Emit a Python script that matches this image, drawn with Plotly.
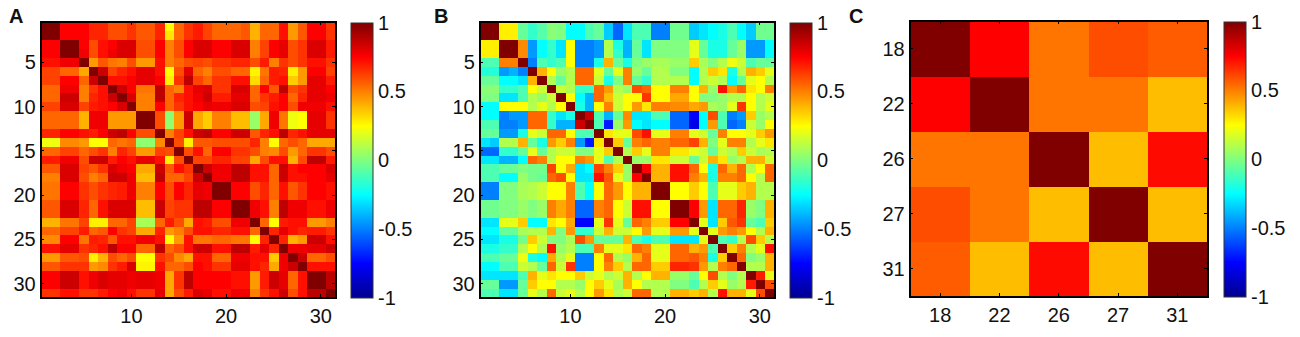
import plotly.graph_objects as go

# Rows of each correlation matrix
matrix_a = [
 [1,1,.75,.75,.75,.68,.68,.6,.6,.65,.58,.58,.68,.25,.55,.65,.7,.62,.55,.55,.55,.58,.4,.55,.55,.72,.45,.58,.75,.75,.65],
 [1,1,.75,.75,.75,.68,.68,.6,.6,.65,.58,.58,.68,.3,.55,.65,.7,.62,.55,.55,.55,.58,.4,.55,.55,.72,.45,.58,.75,.75,.65],
 [.75,.75,1,1,.75,.6,.72,.75,.82,.82,.6,.6,.75,.5,.6,.75,.82,.82,.75,.75,.82,.82,.5,.62,.75,.8,.6,.65,.82,.82,.7],
 [.75,.75,1,1,.78,.6,.72,.78,.82,.82,.6,.6,.75,.5,.6,.75,.82,.82,.75,.75,.82,.82,.5,.62,.75,.8,.6,.65,.82,.82,.7],
 [.72,.72,.78,.78,1,.45,.58,.52,.5,.6,.45,.45,.72,.5,.55,.6,.62,.6,.65,.65,.68,.68,.6,.7,.5,.65,.6,.65,.72,.72,.65],
 [.62,.62,.55,.55,.42,1,.85,.62,.68,.72,.8,.8,.72,.25,.6,.8,.55,.5,.6,.6,.55,.55,.27,.52,.7,.68,.28,.45,.75,.75,.62],
 [.62,.62,.75,.75,.55,.85,1,.72,.72,.75,.8,.8,.75,.28,.65,.88,.62,.55,.65,.65,.72,.72,.32,.55,.7,.72,.35,.45,.8,.8,.7],
 [.55,.55,.78,.78,.5,.65,.72,1,.85,.75,.52,.52,.88,.55,.5,.72,.8,.82,.65,.65,.82,.82,.55,.75,.58,.88,.6,.65,.8,.8,.75],
 [.55,.55,.85,.85,.5,.68,.72,.85,1,.82,.5,.5,.88,.55,.68,.72,.78,.85,.7,.7,.8,.8,.55,.65,.7,.75,.55,.68,.8,.8,.78],
 [.62,.62,.82,.82,.62,.7,.72,.75,.82,1,.5,.5,.75,.55,.65,.72,.75,.8,.78,.78,.82,.82,.6,.62,.72,.75,.6,.78,.78,.78,.72],
 [.55,.55,.55,.55,.4,.78,.78,.45,.45,.45,1,1,.6,.02,.45,.85,.42,.35,.5,.5,.38,.38,.05,.42,.78,.52,.22,.25,.8,.8,.65],
 [.55,.55,.55,.55,.4,.78,.78,.45,.45,.45,1,1,.6,.04,.45,.85,.42,.35,.5,.5,.38,.38,.05,.42,.78,.52,.22,.25,.8,.8,.65],
 [.68,.68,.75,.75,.72,.7,.75,.85,.88,.75,.6,.6,1,.5,.62,.72,.85,.88,.75,.75,.85,.85,.58,.68,.72,.88,.68,.72,.8,.8,.8],
 [.22,.22,.48,.48,.45,.25,.25,.55,.52,.55,.03,.03,.48,1,.6,.28,.58,.58,.6,.6,.6,.6,.68,.5,.25,.55,.6,.55,.42,.42,.42],
 [.55,.55,.62,.62,.55,.6,.65,.5,.68,.62,.45,.45,.62,.6,1,.6,.72,.55,.75,.75,.65,.65,.6,.5,.48,.6,.45,.55,.65,.65,.6],
 [.7,.7,.78,.78,.6,.85,.85,.7,.75,.72,.8,.8,.72,.28,.6,1,.62,.62,.68,.68,.62,.62,.42,.6,.72,.72,.4,.6,.88,.88,.7],
 [.58,.58,.82,.82,.62,.58,.65,.82,.78,.75,.42,.42,.85,.58,.72,.65,1,.85,.78,.78,.88,.88,.72,.72,.55,.85,.72,.75,.75,.75,.82],
 [.5,.5,.82,.82,.6,.5,.55,.85,.85,.78,.38,.38,.88,.55,.55,.62,.85,1,.78,.78,.88,.88,.72,.72,.55,.85,.72,.72,.75,.75,.8],
 [.52,.52,.75,.75,.65,.6,.65,.68,.7,.78,.5,.5,.75,.6,.75,.68,.8,.78,1,1,.75,.75,.6,.68,.55,.72,.58,.65,.75,.75,.72],
 [.52,.52,.75,.75,.65,.6,.65,.68,.7,.78,.5,.5,.75,.6,.75,.68,.8,.78,1,1,.75,.75,.6,.68,.55,.72,.58,.65,.75,.75,.72],
 [.58,.58,.82,.82,.68,.55,.72,.82,.82,.82,.38,.38,.85,.62,.65,.65,.88,.88,.75,.75,1,1,.78,.72,.5,.88,.78,.78,.72,.72,.78],
 [.58,.58,.82,.82,.68,.55,.72,.82,.82,.82,.38,.38,.85,.62,.65,.65,.88,.88,.75,.75,1,1,.78,.72,.5,.88,.78,.78,.72,.72,.78],
 [.4,.4,.52,.52,.62,.28,.28,.55,.55,.62,.08,.08,.55,.7,.6,.42,.72,.7,.6,.6,.78,.78,1,.55,.25,.7,.72,.72,.45,.45,.5],
 [.55,.55,.62,.62,.7,.55,.58,.75,.65,.62,.42,.42,.68,.45,.5,.6,.72,.72,.68,.68,.72,.72,.55,1,.68,.8,.72,.68,.7,.7,.65],
 [.48,.48,.75,.75,.52,.7,.68,.58,.72,.72,.78,.78,.72,.25,.45,.72,.52,.52,.55,.55,.52,.52,.25,.68,1,.68,.4,.45,.85,.85,.72],
 [.72,.72,.8,.8,.65,.68,.72,.88,.75,.75,.55,.55,.88,.55,.6,.72,.85,.85,.72,.72,.88,.88,.7,.8,.68,1,.78,.78,.8,.8,.85],
 [.45,.45,.58,.58,.6,.28,.4,.6,.55,.6,.25,.25,.65,.6,.48,.42,.72,.72,.55,.55,.78,.78,.72,.72,.35,.78,1,.85,.55,.55,.6],
 [.58,.58,.65,.65,.65,.45,.48,.65,.7,.82,.27,.27,.72,.55,.55,.6,.75,.72,.65,.65,.8,.8,.72,.68,.42,.78,.85,1,.72,.72,.72],
 [.75,.75,.85,.85,.72,.78,.82,.8,.8,.78,.8,.8,.78,.42,.65,.88,.75,.75,.75,.75,.72,.72,.45,.7,.85,.8,.55,.72,1,1,.88],
 [.75,.75,.85,.85,.72,.78,.82,.8,.8,.78,.8,.8,.78,.42,.65,.88,.75,.75,.75,.75,.72,.72,.45,.7,.85,.8,.55,.72,1,1,.88],
 [.65,.65,.72,.72,.65,.65,.7,.75,.78,.72,.65,.65,.8,.42,.6,.7,.82,.8,.72,.72,.78,.78,.5,.65,.72,.85,.6,.72,.88,.88,1],
]

matrix_b = [
 [1,1,.28,.28,-.05,-.15,-.08,.02,0,-.25,-.25,-.1,-.05,-.35,-.55,-.3,-.1,-.1,-.5,-.5,-.03,-.03,-.35,-.3,-.25,-.2,-.1,-.25,-.35,-.03,-.03],
 [1,1,.28,.28,-.05,-.15,-.08,.02,0,-.25,-.25,-.1,-.05,-.35,-.55,-.3,-.1,-.1,-.5,-.5,-.03,-.03,-.35,-.3,-.25,-.2,-.1,-.25,-.35,-.03,-.03],
 [.28,.28,1,1,.48,-.45,-.25,-.15,-.3,.25,-.5,-.5,-.45,.1,-.2,-.4,-.05,-.3,0,0,0,0,.2,-.05,-.2,-.2,-.05,.05,-.45,-.45,-.25],
 [.28,.28,1,1,.48,-.45,-.25,-.15,-.3,.25,-.5,-.5,-.45,.1,-.15,-.4,-.05,-.3,0,0,0,0,.2,-.05,-.2,-.2,-.05,.05,-.45,-.45,-.25],
 [-.1,-.1,.5,.5,1,-.5,-.1,-.15,-.1,.25,-.5,-.5,-.2,.4,-.05,-.2,0,.05,.08,.08,.05,.05,.35,.08,0,.1,.22,.15,-.1,-.05,-.05],
 [-.18,-.18,-.45,-.4,-.5,1,.4,.25,.05,.1,.55,.55,.2,-.05,.2,.5,.05,-.05,.1,.1,0,0,-.25,.1,.35,.3,-.2,.1,.4,.35,.2],
 [-.05,-.05,-.25,-.25,-.3,.4,1,.1,-.05,.1,.55,.55,.15,-.2,0,.5,-.05,-.15,.1,.1,.1,.1,-.25,.1,.15,.1,-.25,-.05,.2,.25,.1],
 [.02,.02,-.15,-.15,-.1,.25,.15,1,.15,.1,-.15,-.15,.55,.45,.1,.05,.6,.55,.25,.25,.5,.5,.25,.4,.05,.72,.45,.55,.3,.25,.5],
 [0,0,-.3,-.3,-.1,.1,.05,.15,1,.25,-.25,-.4,.55,.38,.15,.25,.25,.65,.25,.25,.42,.42,.25,0,0,.05,.1,.1,.25,.1,.15],
 [-.25,-.25,.25,.25,.25,.1,.2,.1,.25,1,-.2,-.4,.25,.5,.15,.25,.45,.3,.5,.5,.48,.48,.42,.45,.08,.05,.2,.65,.25,.1,.2],
 [-.25,-.25,-.5,-.45,-.45,.55,.55,-.15,-.3,-.2,1,.85,-.1,-.4,-.05,.48,-.3,-.3,-.1,-.1,-.55,-.55,-.75,-.25,.6,-.1,-.5,-.45,.35,.05,.1],
 [-.1,-.1,-.5,-.5,-.45,.55,.55,-.15,-.4,-.4,.85,1,-.1,-.7,.05,.45,-.25,-.3,-.25,-.25,-.55,-.55,-.8,-.25,.45,-.1,-.55,-.5,.15,.05,.25],
 [-.05,-.05,-.45,-.45,-.2,.2,.15,.55,.55,.25,-.1,-.1,1,.3,.2,.2,.6,.72,.2,.2,.5,.5,.2,.15,-.05,.5,.25,.25,.2,.35,.45],
 [-.3,-.35,.1,.1,.4,-.05,-.2,.45,.35,.5,-.45,-.7,.3,1,.35,-.05,.5,.55,.5,.5,.55,.55,.62,.4,0,.2,.5,.5,.1,.2,.3],
 [-.55,-.55,-.15,-.15,-.05,.2,-.05,.1,.15,.15,0,0,.2,.35,1,.1,.35,.2,.5,.5,.3,.3,.2,.15,-.05,.15,.1,.35,.15,.08,.1],
 [-.3,-.3,-.4,-.4,-.25,.55,.5,.1,.25,.25,.5,.45,.2,-.1,.1,1,.05,.05,.3,.3,.15,.15,-.05,.15,.4,.3,.05,.1,.4,.4,.15],
 [-.1,-.1,-.05,-.05,0,-.02,-.02,.62,.25,.42,-.3,-.25,.62,.5,.35,.05,1,.75,.4,.4,.72,.72,.55,.25,-.2,.55,.4,.55,.1,.25,.55],
 [-.1,-.1,-.25,-.25,.05,-.02,-.05,.55,.6,.25,-.3,-.3,.72,.58,.2,.05,.75,1,.4,.4,.72,.72,.5,.4,-.2,.5,.5,.55,.25,.1,.55],
 [-.5,-.5,0,0,.08,.1,.15,.25,.25,.5,-.1,-.25,.25,.55,.45,.25,.4,.4,1,1,.25,.25,.35,.25,-.1,.2,.2,.35,.4,.1,.1],
 [-.5,-.5,0,0,.08,.1,.15,.25,.25,.5,-.1,-.25,.25,.55,.45,.25,.4,.4,1,1,.25,.25,.35,.25,-.1,.2,.2,.35,.4,.1,.1],
 [-.03,-.03,0,0,.05,0,.05,.5,.42,.5,-.55,-.55,.5,.55,.25,.15,.72,.72,.25,.25,1,1,.75,.45,-.3,.55,.55,.68,.05,0,.4],
 [-.03,-.03,0,0,.05,0,.05,.5,.42,.5,-.55,-.55,.5,.55,.25,.15,.72,.72,.25,.25,1,1,.75,.45,-.3,.55,.55,.68,.05,0,.4],
 [-.3,-.3,.2,.2,.35,-.25,-.25,.3,.25,.42,-.75,-.75,.2,.65,.2,-.05,.55,.5,.35,.35,.75,.75,1,.2,-.3,.35,.58,.65,-.05,-.1,.35],
 [-.25,-.25,-.05,-.05,.08,.1,.1,.4,0,.45,-.15,-.15,.15,.4,.15,.15,.25,.45,.2,.2,.45,.45,.2,1,.2,.45,.5,.45,.25,.1,.4],
 [-.3,-.3,-.2,-.2,-.02,.35,.15,0,0,.08,.6,.45,-.05,-.05,-.05,.4,-.1,-.2,-.1,-.1,-.3,-.3,-.3,.2,1,-.1,-.15,.1,.6,.35,.1],
 [-.2,-.2,-.15,-.15,.1,.25,.1,.72,.05,.1,-.1,-.1,.5,.2,.2,.3,.55,.5,.2,.2,.55,.55,.4,.45,-.1,1,.35,.5,.1,.2,.72],
 [-.1,-.1,-.05,-.05,.22,-.2,-.25,.42,.1,.2,-.5,-.5,.25,.55,.1,.05,.4,.55,.2,.2,.55,.55,.58,.5,-.2,.35,1,.55,0,.05,.4],
 [-.25,-.25,-.1,-.1,.15,.1,-.05,.55,.15,.65,-.5,-.5,.25,.5,.35,.1,.55,.55,.35,.35,.68,.68,.65,.45,.1,.5,.55,1,.1,.1,.4],
 [-.3,-.3,-.3,-.3,-.1,.4,.2,.3,.25,.25,.35,.15,.2,.1,.15,.4,.1,.25,.4,.4,.05,.05,-.05,.25,.6,.1,0,.1,1,.7,.2],
 [-.05,-.05,-.45,-.45,-.05,.35,.25,.25,.1,.1,.05,.25,.35,.2,.08,.4,.25,.1,.1,.1,0,0,-.1,.1,.35,.2,.05,.1,.7,1,.6],
 [-.1,-.1,-.3,-.3,-.05,.2,.1,.55,.15,.2,.1,.25,.45,.3,.1,.15,.55,.55,.1,.1,.4,.4,.35,.4,.1,.72,.4,.4,.2,.6,1],
]

labels_c = ["18", "22", "26", "27", "31"]
matrix_c = [
 [1, .75, .52, .6, .57],
 [.75, 1, .52, .52, .38],
 [.52, .52, 1, .38, .73],
 [.6, .52, .38, 1, .38],
 [.57, .38, .73, .38, 1],
]
indices = list(range(1, 32))
ticks_x = [10, 20, 30]
ticks_y = [5, 10, 15, 20, 25, 30]
cbar_ticks = [-1, -0.5, 0, 0.5, 1]
cbar_text = ["-1", "-0.5", "0", "0.5", "1"]

W, H = 1300, 337
jet = [
 [0, "rgb(0,0,143)"], [0.125, "rgb(0,0,255)"], [0.375, "rgb(0,255,255)"],
 [0.625, "rgb(255,255,0)"], [0.875, "rgb(255,0,0)"], [1, "rgb(128,0,0)"],
]
FONT = dict(family="Liberation Sans, Arial, sans-serif", size=20, color="#111")

panels = [
 dict(x=indices, y=indices, z=matrix_a, box=(41.5, 335, 22.5, 297), bar=(351, 22), name="A", lx=7),
 dict(x=indices, y=indices, z=matrix_b, box=(480.5, 774, 22.5, 297), bar=(790, 22), name="B", lx=432),
 dict(x=labels_c, y=labels_c, z=matrix_c, box=(910.5, 1207, 21.5, 296), bar=(1224, 22), name="C", lx=847),
]

fig = go.Figure()
layout = dict(
    width=W, height=H, autosize=False, margin=dict(l=0, r=0, t=0, b=0),
    paper_bgcolor="white", plot_bgcolor="white", font=FONT, annotations=[],
)
for i, p in enumerate(panels, start=1):
    x0, x1, y0, y1 = p["box"]
    bx, bw = p["bar"]
    suffix = "" if i == 1 else str(i)
    fig.add_trace(go.Heatmap(
        x=p["x"], y=p["y"], z=p["z"], zmin=-1, zmax=1, colorscale=jet,
        xaxis="x" + suffix, yaxis="y" + suffix, hoverinfo="skip",
        colorbar=dict(
            x=bx / W, xanchor="left", xref="paper", y=1 - y0 / H, yanchor="top", yref="paper",
            lenmode="pixels", len=y1 - y0, thicknessmode="pixels", thickness=bw,
            xpad=0, ypad=0, outlinewidth=1, outlinecolor="#333",
            tickvals=cbar_ticks, ticktext=cbar_text, ticks="", ticklabelposition="outside",
            tickfont=FONT,
        ),
    ))
    numeric = p["name"] != "C"
    ax = dict(
        domain=[x0 / W, x1 / W], anchor="y" + suffix, showgrid=False, zeroline=False,
        mirror="allticks", showline=True, linecolor="black", linewidth=1.5,
        ticks="inside", ticklen=3, tickwidth=1, tickcolor="black", tickfont=FONT,
    )
    ay = dict(
        domain=[1 - y1 / H, 1 - y0 / H], anchor="x" + suffix, showgrid=False, zeroline=False,
        mirror="allticks", showline=True, linecolor="black", linewidth=1.5,
        ticks="inside", ticklen=3, tickwidth=1, tickcolor="black", tickfont=FONT,
    )
    if numeric:
        ax.update(range=[0.5, 31.5], tickmode="array", tickvals=ticks_x)
        ay.update(range=[31.5, 0.5], tickmode="array", tickvals=ticks_y)
    else:
        ax.update(type="category", categoryorder="array", categoryarray=labels_c)
        ay.update(type="category", categoryorder="array", categoryarray=labels_c[::-1])
    layout["xaxis" + suffix] = ax
    layout["yaxis" + suffix] = ay
    layout["annotations"].append(dict(
        text="<b>%s</b>" % p["name"], x=p["lx"] / W, y=1 - 16 / H, xref="paper", yref="paper",
        xanchor="left", yanchor="middle", showarrow=False,
        font=dict(family="Liberation Sans, Arial, sans-serif", size=20, color="#111"),
    ))
fig.update_layout(**layout)
fig.write_html("out.html", post_script="document.body.style.margin='0';", config=dict(displayModeBar=False))
